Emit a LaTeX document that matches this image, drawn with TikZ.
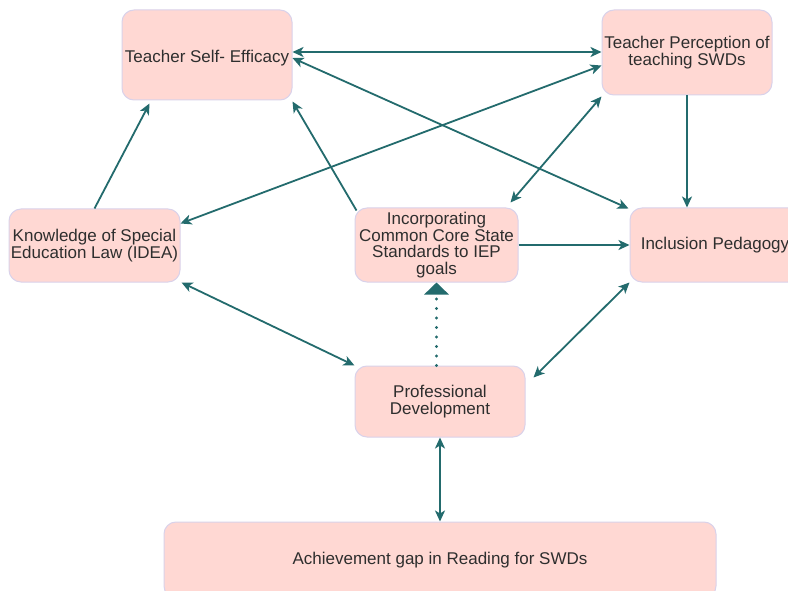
\documentclass[tikz,border=0pt]{standalone}
\usepackage{fontspec}
\setmainfont{Liberation Sans}
\usetikzlibrary{arrows.meta,calc}
\definecolor{boxfill}{HTML}{FFD8D3}
\definecolor{boxline}{HTML}{D9D2EA}
\definecolor{arrowc}{HTML}{236B6D}
\definecolor{txt}{HTML}{2E2E2E}
\tikzset{
  box/.style={draw=boxline, line width=1pt, fill=boxfill, rounded corners=12pt,
    align=center, text=txt, inner sep=0pt,
    font=\fontsize{17}{16.5}\selectfont},
  conn/.style={draw=arrowc, line width=1.8pt,
    -{Stealth[length=11pt,width=10pt,inset=3pt]}},
  biconn/.style={draw=arrowc, line width=1.8pt,
    {Stealth[length=11pt,width=10pt,inset=3pt]}-{Stealth[length=11pt,width=10pt,inset=3pt]}},
  dotconn/.style={draw=arrowc, line width=3.4pt, line cap=round,
    dash pattern=on 0pt off 9.5pt,
    -{Triangle[length=12pt,width=24pt]}}
}
\begin{document}
\begin{tikzpicture}[x=1pt,y=-1pt]
\path[use as bounding box, clip] (0,0) rectangle (788,591);
\fill[white] (0,0) rectangle (788,591);

\node[box, minimum width=170pt, minimum height=90pt, text height=16pt, text depth=0pt] (tse) at (207,55) {Teacher Self- Efficacy};
\node[box, minimum width=170pt, minimum height=85pt] (tpt) at (687,52.5) {Teacher Perception of\\teaching SWDs};
\node[box, minimum width=171pt, minimum height=73pt] (kse) at (94.5,245.5) {Knowledge of Special\\Education Law (IDEA)};
\node[box, minimum width=163pt, minimum height=74pt] (icc) at (436.5,245) {Incorporating\\Common Core State\\Standards to IEP\\goals};
\node[box, minimum width=170pt, minimum height=74pt] (ip) at (715,245) {Inclusion Pedagogy};
\node[box, minimum width=170pt, minimum height=71pt] (pd) at (440,401.5) {Professional\\Development};
\node[box, minimum width=552pt, minimum height=76pt] (ag) at (440,560) {Achievement gap in Reading for SWDs};

% connectors
\draw[biconn] ([yshift=3pt]tse.east) -- ([yshift=0.5pt]tpt.west);
\draw[biconn] ([yshift=-3pt]tse.east) -- ([xshift=-1pt,yshift=-1pt]ip.north west);
\draw[biconn] ([yshift=-13pt]tpt.west) -- ([yshift=22pt]kse.east);
\draw[biconn] ([xshift=-8pt,yshift=5pt]icc.north east) -- ([yshift=-1pt]tpt.south west);
\draw[conn] (tpt.south) -- (tpt.south |- ip.north);
\draw[conn] (kse.north) -- ([xshift=28pt,yshift=-3pt]tse.south west);
\draw[conn] ([xshift=2pt,yshift=-3pt]icc.north west) -- ([yshift=-1pt]tse.south east);
\draw[conn] (icc.east) -- (ip.west);
\draw[biconn] ([xshift=1pt]kse.south east) -- (pd.north west);
\draw[biconn] (ip.south west) -- ([xshift=8pt,yshift=-12pt]pd.north east);
\draw[dotconn] (icc.south |- pd.north) -- (icc.south);
\draw[biconn] (pd.south) -- (ag.north);
\end{tikzpicture}
\end{document}
